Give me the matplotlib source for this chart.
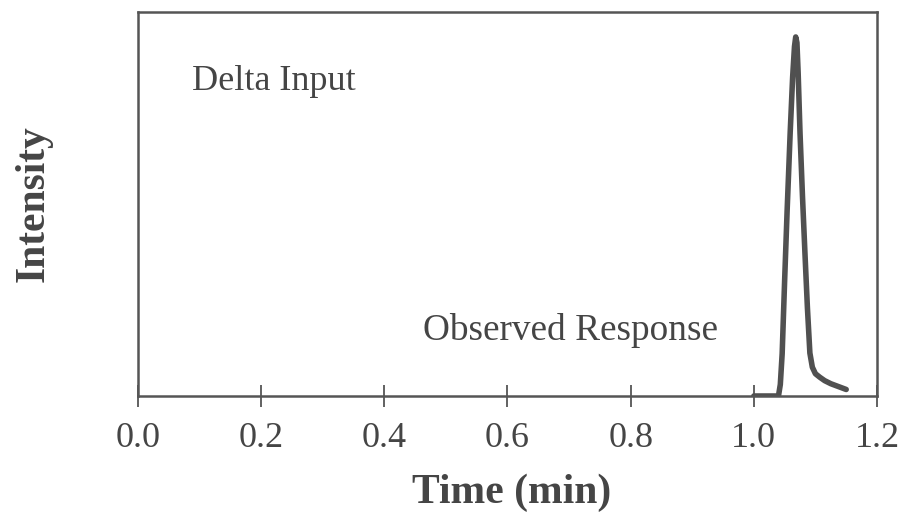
import matplotlib

matplotlib.use("Agg")
import matplotlib.pyplot as plt

# peak trace (time in min, relative intensity)
time_min = [1.000, 1.040, 1.043, 1.046, 1.050, 1.054, 1.059, 1.063, 1.066,
            1.068, 1.070, 1.072, 1.075, 1.079, 1.083, 1.087, 1.091, 1.095,
            1.100, 1.107, 1.115, 1.125, 1.135, 1.145, 1.150]
intensity = [0.0, 0.0, 0.03, 0.11, 0.30, 0.48, 0.685, 0.83, 0.91,
             0.935, 0.92, 0.84, 0.685, 0.52, 0.372, 0.23, 0.112, 0.075,
             0.058, 0.049, 0.04, 0.032, 0.026, 0.02, 0.017]
x_ticks = [0.0, 0.2, 0.4, 0.6, 0.8, 1.0, 1.2]

plt.rcParams["font.family"] = ["Liberation Serif", "DejaVu Serif"]
ink = "#454545"

fig = plt.figure(figsize=(9.03, 5.14), dpi=100)
ax = fig.add_axes([138 / 903, 1 - 396 / 514, 739 / 903, 384 / 514])

ax.plot(time_min, intensity, color="#505050", linewidth=4.0,
        solid_capstyle="round", solid_joinstyle="round")

ax.set_xlim(0.0, 1.2)
ax.set_ylim(0.0, 1.0)
ax.set_xticks(x_ticks)
ax.set_xticklabels(["{0:.1f}".format(t) for t in x_ticks])
ax.set_yticks([])
ax.tick_params(axis="x", direction="inout", length=16, width=1.3,
               color="#555555", labelsize=26, labelcolor=ink, pad=11)
for spine in ax.spines.values():
    spine.set_color("#555555")
    spine.set_linewidth(1.8)

ax.set_xlabel("Time (min)", fontsize=30, fontweight="bold", color=ink)
ax.xaxis.label.set_va("baseline")
ax.xaxis.set_label_coords(0.505, (396 - 503) / 384)

ax.set_ylabel("Intensity", fontsize=30, fontweight="bold", color=ink)
ax.yaxis.set_label_coords(-0.116, 0.5)

ax.text(0.073, (396 - 90) / 384, "Delta Input", transform=ax.transAxes,
        fontsize=26, color=ink, va="baseline", ha="left")
ax.text(0.585, (396 - 340) / 384, "Observed Response", transform=ax.transAxes,
        fontsize=26.8, color=ink, va="baseline", ha="center")

fig.savefig("out.png", dpi=100)
